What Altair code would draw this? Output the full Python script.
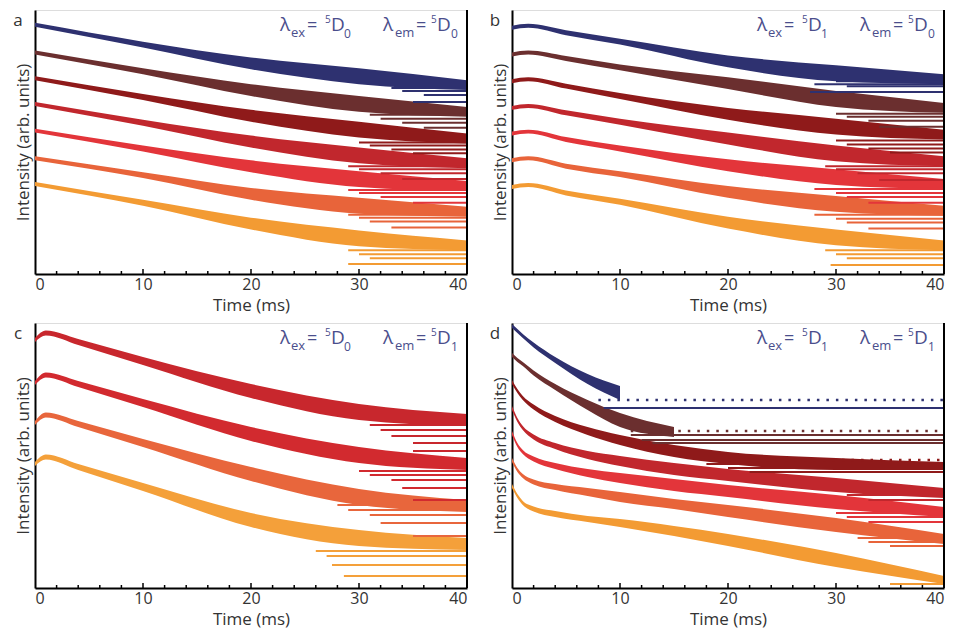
import altair as alt
import pandas as pd

FONT = "Open Sans"
W = 432
H_TOP = 264
H_BOT = 265
TXT = "#4a4e8c"

# ---- colours ----
COLORS_7 = ["#2e3170", "#6b2f2f", "#8f1a1a", "#c1272d", "#e3353a", "#e8643a", "#f39b33"]
COLORS_C = ["#c8272d", "#d22a2f", "#e8663c", "#f4a03a"]

# ---- panel a : ex 5D0, em 5D0 (log intensity, arb. units) ----
TIME_A = [0, 10, 20, 30, 40]
SPREAD_A = [2, 3, 6, 8, 5]
CENTER_A = [
    [252, 232, 213, 200, 191],
    [224, 205, 186, 172, 164],
    [198, 179, 160, 146, 137],
    [172, 153, 134, 120, 112],
    [145, 127, 109, 96, 89],
    [117, 100, 81, 69, 63],
    [91, 72, 51, 36, 29],
]
LEVELS_A = [
    [(33, 188), (34, 185), (36, 181), (35, 174)],
    [(31, 161), (32, 157), (34, 153), (36, 148)],
    [(30, 133), (31, 130), (33, 126), (35, 122)],
    [(29, 109), (30, 106), (32, 102), (34, 96)],
    [(29, 85), (30, 82), (32, 78), (35, 72)],
    [(29, 60), (30, 57), (31, 53), (33, 47)],
    [(29, 24), (30, 20), (31, 16), (29, 10)],
]

# ---- panel b : ex 5D1, em 5D0 ----
TIME_B = [0, 1.5, 5, 10, 20, 30, 40]
SPREAD_B = [2, 2, 2.5, 3, 6, 8, 5]
CENTER_B = [
    [249, 251, 244, 235, 215, 203, 197],
    [222, 224, 218, 209, 193, 177, 168],
    [195, 197, 190, 180, 162, 149, 141],
    [168, 170, 163, 154, 137, 122, 114],
    [142, 144, 136, 127, 110, 98, 91],
    [115, 117, 109, 101, 83, 71, 64],
    [88, 90, 82, 73, 52, 37, 29],
]
LEVELS_B = [
    [(30, 195), (28, 192), (31, 190), (27.6, 184)],
    [(30, 162), (31, 159), (33, 155), (34, 149)],
    [(30, 135), (31, 131), (33, 127), (35, 123)],
    [(29, 109), (30, 106), (32, 102), (34, 95)],
    [(28, 86), (30, 82), (31, 78), (33, 72)],
    [(28, 60), (30, 56), (31, 52), (33, 46)],
    [(29, 24), (30, 20), (31, 16), (29.5, 9)],
]

# ---- panel c : ex 5D0, em 5D1 ----
TIME_C = [0, 1, 4, 10, 20, 30, 40]
SPREAD_C = [2, 2.5, 3, 4, 7, 8, 6]
CENTER_C = [
    [248, 255, 246, 227, 197, 176, 168],
    [205, 213, 204, 185, 154, 133, 124],
    [165, 173, 164, 145, 114, 91, 82],
    [124, 131, 121, 101, 68, 50, 44],
]
LEVELS_C = [
    [(31, 163), (32, 158), (33, 152), (35, 145), (35, 137)],
    [(30, 117), (31, 113), (33, 108), (34, 100), (35, 88)],
    [(28, 83), (29, 78), (31, 73), (32, 65), (35, 52)],
    [(26, 37), (27, 32), (27.5, 23), (28.6, 12)],
]

# ---- panel d : ex 5D1, em 5D1 ----
TIME_D = [0, 0.5, 1, 2, 4, 7, 10, 15, 20, 30, 40]
CENTER_D = [
    [262, 257, 252, 243, 228, 209, 195, None, None, None, None],
    [233, 228, 224, 215, 201, 183, 168, 156, None, None, None],
    [206, 197, 190, 181, 169, 157, 148, 137, 130, 124, 122],
    [180, 168, 160, 151, 142, 133, 127, 119, 113, 103, 95],
    [155, 143, 136, 129, 122, 115, 110, 103, 97, 86, 76],
    [128, 118, 112, 106, 101, 96, 91, 84, 77, 63, 49],
    [102, 92, 85, 79, 74, 69, 65, 57, 48, 28, 8],
]
SPREAD_D = [
    [2, 2, 2, 2.5, 3, 5, 7, None, None, None, None],
    [2, 2, 2, 2.5, 3, 5, 7, 5, None, None, None],
    [2, 2, 2, 2.5, 3, 4, 5, 6, 6, 6, 4],
    [2, 2, 2, 2.5, 3, 4, 5, 6, 6, 7, 5],
    [2, 2, 2, 2.5, 3, 4, 5, 6, 6, 7, 5],
    [2, 2, 2, 2.5, 3, 4, 5, 5, 6, 7, 5],
    [2, 2, 2, 2.5, 3, 3, 4, 5, 6, 7, 4],
]
LEVELS_D = [
    [(8.5, 180)],
    [(11, 153), (12, 148), (13, 145)],
    [(18, 124), (20, 120), (22, 116)],
    [(30, 97), (31, 93), (33, 88)],
    [(30, 75), (31, 71), (33, 66)],
    [(32, 50), (33, 46), (35, 42)],
    [(35, 4)],
]
DOTTED_D = [
    [(8, 188)],
    [(11, 157)],
    [(20, 128)],
    [], [], [], [],
]

X_LABELS = [0, 10, 20, 30, 40]
TICKS_MINOR = [2, 4, 6, 8, 12, 14, 16, 18, 22, 24, 26, 28, 32, 34, 36, 38]
TICKS_MAJOR = [10, 20, 30]


def legend_layers(ex_level, em_level):
    # (text, x, baseline y, size)
    pieces = [
        ("λ", 245, 21, 19), ("ex", 256, 27, 13), ("=", 272, 21, 18),
        ("5", 290, 13, 10), ("D", 296, 21, 19), (ex_level, 309, 28, 12),
        ("λ", 348, 21, 19), ("em", 360, 27, 13), ("=", 381, 21, 18),
        ("5", 396, 13, 10), ("D", 402, 21, 19), (em_level, 416, 28, 12),
    ]
    out = []
    for txt, px, py, fs in pieces:
        out.append(
            alt.Chart(pd.DataFrame({"k": [0]}))
            .mark_text(text=txt, font=FONT, fontSize=fs, color=TXT, align="left", baseline="alphabetic")
            .encode(x=alt.value(px), y=alt.value(py))
        )
    return out


def panel(times, centers, spreads, levels, colors, letter, ex_level, em_level, height, ydom, dotted=None):
    rows = []
    for i, (cs, col) in enumerate(zip(centers, colors)):
        sp = spreads[i] if isinstance(spreads[0], list) else spreads
        for t, c, s in zip(times, cs, sp):
            if c is None:
                continue
            rows.append({"s": i, "t": t, "hi": c + s, "lo": c - s, "col": col})
    band_df = pd.DataFrame(rows)

    lrows = []
    for i, (lv, col) in enumerate(zip(levels, colors)):
        for t0, v in lv:
            lrows.append({"t0": t0, "t1": 40, "v": v, "col": col})
    lev_df = pd.DataFrame(lrows)

    xscale = alt.Scale(domain=[0, 40], nice=False, zero=False)
    yscale = alt.Scale(domain=[0, ydom], nice=False, zero=False)
    xaxis = alt.Axis(values=X_LABELS, ticks=False, grid=False, domainColor="black", domainWidth=2,
                     labelFont=FONT, labelFontSize=16, labelColor="#333", labelPadding=2,
                     title="Time (ms)", titleFont=FONT, titleFontSize=17, titleFontWeight="normal",
                     titleColor="#333", titlePadding=5)
    yaxis = alt.Axis(labels=False, ticks=False, grid=False, domainColor="black", domainWidth=2,
                     title="Intensity (arb. units)", titleFont=FONT, titleFontSize=17,
                     titleFontWeight="normal", titleColor="#333", titlePadding=3)

    band = alt.Chart(band_df).mark_area(interpolate="monotone").encode(
        x=alt.X("t:Q", scale=xscale, axis=xaxis),
        y=alt.Y("hi:Q", scale=yscale, axis=yaxis),
        y2="lo:Q",
        color=alt.Color("col:N", scale=None),
        detail="s:N",
    )
    lev = alt.Chart(lev_df).mark_rule(strokeWidth=2).encode(
        x="t0:Q", x2="t1:Q", y="v:Q", color=alt.Color("col:N", scale=None)
    )
    layers = [band, lev]
    if dotted is not None:
        drows = []
        for i, (lv, col) in enumerate(zip(dotted, colors)):
            for t0, v in lv:
                drows.append({"t0": t0, "t1": 40, "v": v, "col": col})
        if drows:
            layers.append(
                alt.Chart(pd.DataFrame(drows)).mark_rule(strokeWidth=2.5, strokeDash=[2.5, 7]).encode(
                    x="t0:Q", x2="t1:Q", y="v:Q", color=alt.Color("col:N", scale=None)
                )
            )
    tmin = alt.Chart(pd.DataFrame({"t": TICKS_MINOR})).mark_rule(color="black", strokeWidth=1.5).encode(
        x="t:Q", y=alt.value(height), y2=alt.value(height - 3)
    )
    tmaj = alt.Chart(pd.DataFrame({"t": TICKS_MAJOR})).mark_rule(color="black", strokeWidth=1.5).encode(
        x="t:Q", y=alt.value(height), y2=alt.value(height - 5)
    )
    right = alt.Chart(pd.DataFrame({"t": [40]})).mark_rule(color="black", strokeWidth=2).encode(
        x="t:Q", y=alt.value(0), y2=alt.value(height)
    )
    let = alt.Chart(pd.DataFrame({"k": [0]})).mark_text(
        text=letter, font=FONT, fontSize=17, color="#333", align="center", baseline="alphabetic"
    ).encode(x=alt.value(-17), y=alt.value(16))
    layers += [tmin, tmaj, right, let] + legend_layers(ex_level, em_level)
    return alt.layer(*layers).properties(width=W, height=height)


pa = panel(TIME_A, CENTER_A, SPREAD_A, LEVELS_A, COLORS_7, "a", "0", "0", H_TOP, 267)
pb = panel(TIME_B, CENTER_B, SPREAD_B, LEVELS_B, COLORS_7, "b", "1", "0", H_TOP, 267)
pc = panel(TIME_C, CENTER_C, SPREAD_C, LEVELS_C, COLORS_C, "c", "0", "1", H_BOT, 265)
pd_ = panel(TIME_D, CENTER_D, SPREAD_D, LEVELS_D, COLORS_7, "d", "1", "1", H_BOT, 265, dotted=DOTTED_D)

chart = alt.vconcat(
    alt.hconcat(pa, pb, spacing=20),
    alt.hconcat(pc, pd_, spacing=20),
    spacing=7,
).properties(
    padding={"left": 4, "top": 0, "right": 0, "bottom": 0}
).configure_view(
    stroke="#9a9a9a", strokeWidth=1
).configure(background="white")

chart.save("out.html", embed_options={"renderer": "svg", "actions": False})
